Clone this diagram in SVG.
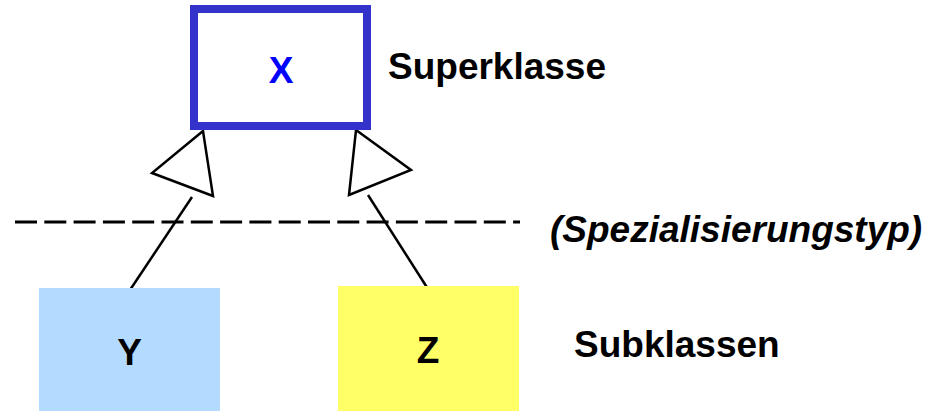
<svg xmlns="http://www.w3.org/2000/svg" width="930" height="411" viewBox="0 0 930 411">
<style>
.lbl{font-family:"Liberation Sans",Arial,sans-serif;font-weight:bold;font-size:37px;fill:#000}
.tri{fill:#fff;stroke:#000;stroke-width:2.5;stroke-linejoin:miter}
.conn{stroke:#000;stroke-width:2.5;fill:none}
</style>
<rect width="930" height="411" fill="#fff"/>
<g id="separator">
<line x1="15" y1="222" x2="520" y2="222" stroke="#000" stroke-width="3" stroke-dasharray="22 7.3"/>
</g>
<g id="connectors">
<line class="conn" x1="192" y1="197" x2="130" y2="290"/>
<polygon class="tri" points="203,131 152,173 213,196"/>
<line class="conn" x1="368" y1="195" x2="428" y2="289"/>
<polygon class="tri" points="356,130 411,170 349,195"/>
</g>
<g id="node-X">
<rect x="194" y="9" width="173" height="117" fill="#fff" stroke="#3333CC" stroke-width="8"/>
<text class="lbl" x="281" y="83" text-anchor="middle" style="fill:#0000FF">X</text>
</g>
<g id="node-Y">
<rect x="39" y="288" width="181" height="123" fill="#B3DBFF"/>
<text class="lbl" x="129.5" y="365" text-anchor="middle">Y</text>
</g>
<g id="node-Z">
<rect x="338" y="286" width="181" height="125" fill="#FFFF66"/>
<text class="lbl" x="428" y="363" text-anchor="middle">Z</text>
</g>
<g id="labels">
<text class="lbl" x="388" y="79">Superklasse</text>
<text class="lbl" x="550" y="242" font-style="italic">(Spezialisierungstyp)</text>
<text class="lbl" x="574" y="357">Subklassen</text>
</g>
</svg>
